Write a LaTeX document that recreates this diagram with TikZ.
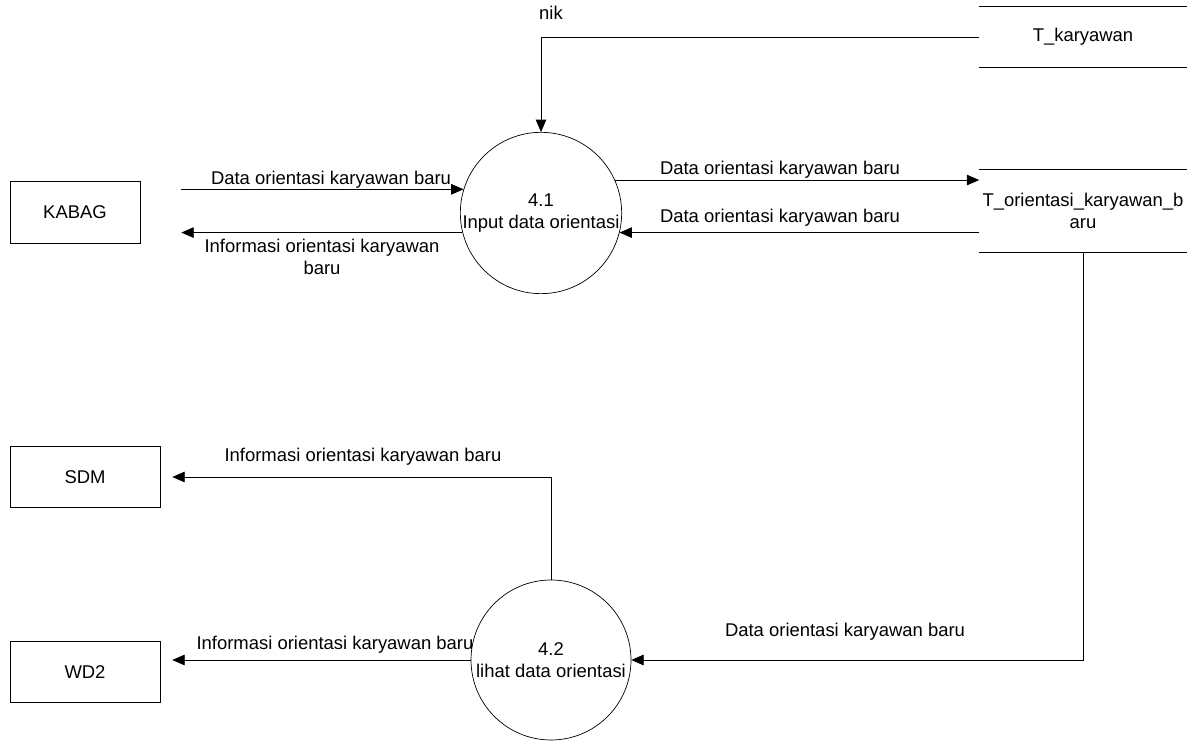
\documentclass[tikz,border=0pt]{standalone}
\usepackage{fontspec}
\setmainfont{Liberation Sans}
\usetikzlibrary{arrows.meta}
\begin{document}
\begin{tikzpicture}[x=0.02cm, y=-0.02cm, font=\fontsize{10.5}{12.5}\selectfont,
        entity/.style={draw, minimum width=2.6cm, minimum height=1.24cm, inner sep=0},
        proc/.style={draw, circle, minimum size=3.2cm, inner sep=0, align=center},
        store/.style={minimum width=4.14cm, inner sep=0, align=center},
        flow/.style={-{Triangle[length=7pt, width=6pt]}},
        lbl/.style={inner sep=1pt, align=center}]
        \useasboundingbox (0,0) rectangle (1187,742);

        \node[entity] (kabag) at (75,212) {KABAG};
        \node[entity, minimum width=3cm, minimum height=1.22cm] (sdm) at (85,477) {SDM};
        \node[entity, minimum width=3cm, minimum height=1.22cm] (wd2) at (85,672) {WD2};

        \node[proc] (p41) at (541,213) {4.1\\Input data orientasi};
        \node[proc] (p42) at (551,660) {4.2\\lihat data orientasi};

        \node[store, minimum height=1.2cm] (tkar) at (1083,37) {T\_karyawan};
        \node[store, minimum height=1.66cm] (tori) at (1083,211) {T\_orientasi\_karyawan\_b\\aru};
        \draw (tkar.north west) -- (tkar.north east) (tkar.south west) -- (tkar.south east);
        \draw (tori.north west) -- (tori.north east) (tori.south west) -- (tori.south east);

        \draw[flow] (tkar.west) -| (p41.north);
        \draw[flow] ([xshift=0.82cm]kabag.east |- p41.163) -- (p41.163);
        \draw[flow] (p41.194) -- ([xshift=0.82cm]kabag.east |- p41.194);
        \draw[flow] (p41.24) -- (tori.west |- p41.24);
        \draw[flow] (tori.west |- p41.-14) -- (p41.-14);
        \draw[flow] (tori.south) |- (p42.east);
        \draw[flow] (p42.north) |- ([xshift=0.24cm]sdm.east);
        \draw[flow] (p42.west) -- ([xshift=0.24cm]wd2.east |- p42.west);

        \node[lbl] (lnik) at (551,13) {nik};
        \node[lbl] (lin) at (331,180) {Data orientasi karyawan baru};
        \node[lbl] (lout) at (322,257) {Informasi orientasi karyawan\\baru};
        \node[lbl] (lsave) at (780,170) {Data orientasi karyawan baru};
        \node[lbl] (lread) at (780,218) {Data orientasi karyawan baru};
        \node[lbl] (lview) at (845,632) {Data orientasi karyawan baru};
        \node[lbl] (lsdm) at (363,457) {Informasi orientasi karyawan baru};
        \node[lbl] (lwd) at (335,645) {Informasi orientasi karyawan baru};
    \end{tikzpicture}
\end{document}
